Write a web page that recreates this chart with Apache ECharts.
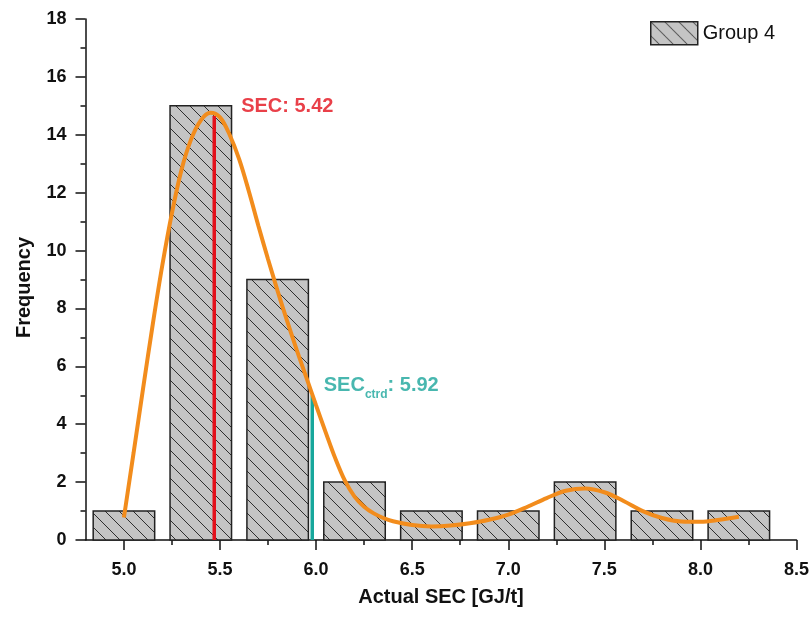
<!DOCTYPE html>
<html>
<head>
<meta charset="utf-8">
<script src="https://cdn.jsdelivr.net/npm/echarts@6/dist/echarts.min.js"></script>
<style>
html,body{margin:0;padding:0;background:#fff;}
#chart{width:812px;height:617px;}
</style>
</head>
<body>
<div id="chart"></div>
<script>
// ---- data ----
const binCenters = [5.0, 5.4, 5.8, 6.2, 6.6, 7.0, 7.4, 7.8, 8.2];
const frequencies = [1, 15, 9, 2, 1, 1, 2, 1, 1];
const fitX = [5.0, 5.05, 5.1, 5.15, 5.2, 5.25, 5.3, 5.35, 5.4, 5.45, 5.5, 5.55, 5.6, 5.65, 5.7,
  5.75, 5.8, 5.85, 5.9, 5.95, 6.0, 6.05, 6.1, 6.15, 6.2, 6.25, 6.3, 6.35, 6.4, 6.5,
  6.6, 6.7, 6.8, 6.9, 7.0, 7.1, 7.2, 7.3, 7.4, 7.5, 7.6, 7.7, 7.8, 7.9, 8.0, 8.1, 8.2];
const fitY = [0.78, 3.0, 5.25, 7.45, 9.5, 11.3, 12.8, 13.85, 14.5, 14.76, 14.6, 14.0, 13.15, 12.05, 10.85,
  9.7, 8.6, 7.55, 6.55, 5.6, 4.65, 3.72, 2.82, 2.05, 1.5, 1.15, 0.92, 0.76, 0.65, 0.52,
  0.47, 0.5, 0.58, 0.7, 0.88, 1.15, 1.45, 1.7, 1.78, 1.65, 1.35, 1.0, 0.76, 0.64, 0.63, 0.7, 0.8];
const secLine = [[5.47, 0], [5.47, 14.65]];
const secCtrdLine = [[5.98, 0], [5.98, 5.0]];
const secLabelPos = [[5.61, 14.97]];
const secCtrdLabelPos = [[6.04, 5.3]];
const xMajorTicks = [5.0, 5.5, 6.0, 6.5, 7.0, 7.5, 8.0, 8.5];
const xMinorTicks = [5.25, 5.75, 6.25, 6.75, 7.25, 7.75, 8.25];
const seriesName = 'Group 4';

// ---- hatch pattern ----
function makeHatch() {
  const s = 14;
  const c = document.createElement('canvas');
  c.width = s; c.height = s;
  const g = c.getContext('2d');
  g.fillStyle = '#c4c4c4';
  g.fillRect(0, 0, s, s);
  g.strokeStyle = '#2e2e2e';
  g.lineWidth = 1;
  g.beginPath();
  g.moveTo(-2, -2); g.lineTo(s + 2, s + 2);
  g.moveTo(-2, s - 2); g.lineTo(2, s + 2);
  g.moveTo(s - 2, -2); g.lineTo(s + 2, 2);
  g.stroke();
  return c;
}
const hatch = { image: makeHatch(), repeat: 'repeat' };
const BAR_HALF = 0.16;
const FONT = 'Liberation Sans, Arial, sans-serif';

const chart = echarts.init(document.getElementById('chart'), null, { renderer: 'canvas' });
const option = {
  backgroundColor: '#ffffff',
  animation: false,
  grid: { left: 85.5, right: 12, top: 19, bottom: 77 },
  legend: {
    data: [{ name: seriesName, icon: 'rect', itemStyle: { color: hatch, borderColor: '#222', borderWidth: 1.5 } }],
    left: 645, top: 16, itemWidth: 47, itemHeight: 23, itemGap: 6,
    textStyle: { fontFamily: FONT, fontSize: 20, color: '#111' }
  },
  xAxis: [{
    type: 'value', min: 4.8, max: 8.5,
    name: 'Actual SEC [GJ/t]', nameLocation: 'middle', nameGap: 47, nameMoveOverlap: false,
    nameTextStyle: { fontFamily: FONT, fontSize: 20, fontWeight: 'bold', color: '#111' },
    axisLine: { show: true, onZero: false, lineStyle: { color: '#111', width: 1.5 } },
    axisTick: { show: true, inside: false, length: 10, customValues: xMajorTicks, lineStyle: { color: '#111', width: 1.5 } },
    axisLabel: { show: true, customValues: xMajorTicks, margin: 21, fontFamily: FONT, fontSize: 18, fontWeight: 'bold', color: '#111',
      formatter: v => v.toFixed(1) },
    splitLine: { show: false }
  }, {
    type: 'value', min: 4.8, max: 8.5, position: 'bottom',
    axisLine: { show: false, onZero: false },
    axisTick: { show: true, inside: false, length: 5, customValues: xMinorTicks, lineStyle: { color: '#111', width: 1.5 } },
    axisLabel: { show: false },
    splitLine: { show: false }
  }],
  yAxis: {
    type: 'value', min: 0, max: 18, interval: 2,
    name: 'Frequency', nameLocation: 'middle', nameGap: 51, nameMoveOverlap: false,
    nameTextStyle: { fontFamily: FONT, fontSize: 20, fontWeight: 'bold', color: '#111', padding: [0, 16, 0, 0] },
    axisLine: { show: true, lineStyle: { color: '#111', width: 1.5 } },
    axisTick: { show: true, inside: false, length: 10, lineStyle: { color: '#111', width: 1.5 } },
    minorTick: { show: true, splitNumber: 2, length: 5, lineStyle: { color: '#111', width: 1.5 } },
    axisLabel: { margin: 19, fontFamily: FONT, fontSize: 18, fontWeight: 'bold', color: '#111' },
    splitLine: { show: false }
  },
  series: [{
    name: seriesName,
    type: 'custom',
    itemStyle: { color: hatch, borderColor: '#222', borderWidth: 1.5 },
    data: binCenters.map((x, i) => [x, frequencies[i]]),
    renderItem: function (params, api) {
      const x = api.value(0), y = api.value(1);
      const p0 = api.coord([x - BAR_HALF, y]);
      const p1 = api.coord([x + BAR_HALF, 0]);
      return {
        type: 'rect',
        shape: { x: p0[0], y: p0[1], width: p1[0] - p0[0], height: p1[1] - p0[1] },
        style: { fill: hatch, stroke: '#222', lineWidth: 1.5 }
      };
    },
    z: 1
  }, {
    name: 'fit', type: 'line', data: fitX.map((x, i) => [x, fitY[i]]), smooth: 0.35, symbol: 'none',
    lineStyle: { color: '#F28C1C', width: 4 }, z: 3
  }, {
    name: 'sec', type: 'line', data: secLine, symbol: 'none',
    lineStyle: { color: '#E3101B', width: 3.5 }, z: 2
  }, {
    name: 'secctrd', type: 'line', data: secCtrdLine, symbol: 'none',
    lineStyle: { color: '#17A79C', width: 3.5 }, z: 2
  }, {
    name: 'secLabel', type: 'scatter', data: secLabelPos, symbolSize: 0,
    label: { show: true, position: 'right', distance: 0, formatter: 'SEC: 5.42',
      fontFamily: FONT, fontSize: 20, fontWeight: 'bold', color: '#E3101B' }, z: 4
  }, {
    name: 'secCtrdLabel', type: 'scatter', data: secCtrdLabelPos, symbolSize: 0,
    label: { show: true, position: 'right', distance: 0,
      formatter: '{m|SEC}{s|ctrd}{m|: 5.92}',
      rich: {
        m: { fontFamily: FONT, fontSize: 20, fontWeight: 'bold', color: '#1AA59B', verticalAlign: 'top', lineHeight: 22 },
        s: { fontFamily: FONT, fontSize: 12, fontWeight: 'bold', color: '#1AA59B', verticalAlign: 'top', lineHeight: 22, padding: [13, 0, 0, 0] }
      } }, z: 4
  }]
};
chart.setOption(option);
</script>
</body>
</html>
